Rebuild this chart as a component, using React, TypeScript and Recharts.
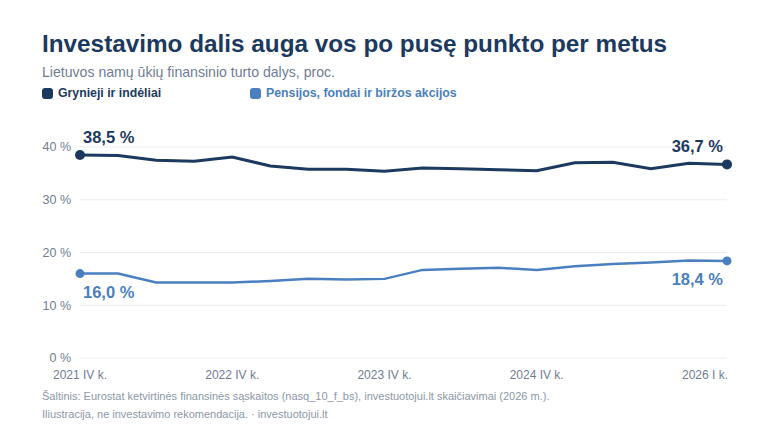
import React from "react";
import { LineChart, Line, XAxis, YAxis, CartesianGrid, LabelList } from "recharts";

const quarters = [
  "2021 IV k.",
  "2022 I k.", "2022 II k.", "2022 III k.", "2022 IV k.",
  "2023 I k.", "2023 II k.", "2023 III k.", "2023 IV k.",
  "2024 I k.", "2024 II k.", "2024 III k.", "2024 IV k.",
  "2025 I k.", "2025 II k.", "2025 III k.", "2025 IV k.",
  "2026 I k.",
];
const cashDeposits = [38.5, 38.4, 37.5, 37.3, 38.1, 36.4, 35.8, 35.8, 35.4, 36.0, 35.9, 35.7, 35.5, 37.0, 37.1, 35.9, 36.9, 36.7];
const pensionsFunds = [16.0, 16.0, 14.3, 14.3, 14.3, 14.6, 15.0, 14.9, 15.0, 16.7, 16.9, 17.1, 16.7, 17.4, 17.8, 18.1, 18.5, 18.4];
const xTicks = ["2021 IV k.", "2022 IV k.", "2023 IV k.", "2024 IV k.", "2026 I k."];
const yTicks = [0, 10, 20, 30, 40];

const title = "Investavimo dalis auga vos po pusę punkto per metus";
const subtitle = "Lietuvos namų ūkių finansinio turto dalys, proc.";
const seriesNames = ["Grynieji ir indėliai", "Pensijos, fondai ir biržos akcijos"];
const source1 = "Šaltinis: Eurostat ketvirtinės finansinės sąskaitos (nasq_10_f_bs), investuotojui.lt skaičiavimai (2026 m.).";
const source2 = "Iliustracija, ne investavimo rekomendacija. · investuotojui.lt";

const DARK = "#1c3a60";
const BLUE = "#4a7fc0";
const GRAY = "#6f7d91";
const FONT = "'Liberation Sans', Arial, Helvetica, sans-serif";

const data = quarters.map((q, i) => ({ q, cash: cashDeposits[i], pens: pensionsFunds[i] }));
const last = quarters.length - 1;

const fmt = (v: number) => v.toFixed(1).replace(".", ",") + " %";

const makeDot = (color: string, r: number) => (props: any) => {
  const { cx, cy, index } = props;
  if (index !== 0 && index !== last) return <g key={index} />;
  return <circle key={index} cx={cx} cy={cy} r={r} fill={color} stroke="none" />;
};

const makeLabel = (color: string, above: boolean) => (props: any) => {
  const { x, y, index, value } = props;
  if (index !== 0 && index !== last) return null;
  const isFirst = index === 0;
  return (
    <text
      x={isFirst ? x + 3 : x - 4}
      y={above ? y - 18 : y + 18}
      textAnchor={isFirst ? "start" : "end"}
      dominantBaseline="central"
      fill={color}
      fontSize={16.5}
      fontWeight={700}
      fontFamily={FONT}
    >
      {fmt(value)}
    </text>
  );
};

const XTick = (props: any) => {
  const { x, y, payload } = props;
  const isLast = payload.value === quarters[last];
  return (
    <text x={isLast ? x + 1 : x} y={y} dy="0.71em" textAnchor={isLast ? "end" : "middle"} fill={GRAY} fontSize={12} fontFamily={FONT}>
      {payload.value}
    </text>
  );
};

export default function App() {
  return (
    <div style={{ position: "absolute", left: 0, top: 0, width: 768, height: 432, background: "#fff", fontFamily: FONT, overflow: "hidden" }}>
      <div style={{ position: "absolute", left: 42, top: 30, fontSize: 24.3, fontWeight: 700, color: DARK, whiteSpace: "nowrap" }}>{title}</div>
      <div style={{ position: "absolute", left: 42, top: 63.5, fontSize: 14.1, color: GRAY, whiteSpace: "nowrap" }}>{subtitle}</div>
      <div style={{ position: "absolute", left: 42, top: 86, display: "flex", alignItems: "center", whiteSpace: "nowrap" }}>
        <span style={{ width: 11, height: 11, borderRadius: 3, background: DARK, display: "inline-block" }} />
        <span style={{ marginLeft: 5, fontSize: 12.3, fontWeight: 700, color: DARK }}>{seriesNames[0]}</span>
      </div>
      <div style={{ position: "absolute", left: 250, top: 86, display: "flex", alignItems: "center", whiteSpace: "nowrap" }}>
        <span style={{ width: 11, height: 11, borderRadius: 3, background: BLUE, display: "inline-block" }} />
        <span style={{ marginLeft: 5, fontSize: 12.3, fontWeight: 700, color: BLUE }}>{seriesNames[1]}</span>
      </div>
      <div style={{ position: "absolute", left: 0, top: 0 }}>
        <LineChart width={768} height={432} data={data} margin={{ top: 147, right: 41, bottom: 54, left: 0 }}>
          <CartesianGrid vertical={false} stroke="#e9ecf0" strokeWidth={1} />
          <XAxis
            dataKey="q"
            ticks={xTicks}
            interval={0}
            axisLine={false}
            tickLine={false}
            height={20}
            tick={<XTick />}
            tickMargin={6}
          />
          <YAxis
            domain={[0, 40]}
            ticks={yTicks}
            width={80}
            axisLine={false}
            tickLine={false}
            tickMargin={3}
            tick={{ fill: GRAY, fontSize: 12.5, fontFamily: FONT }}
            tickFormatter={(v: number) => `${v} %`}
          />
          <Line
            type="linear"
            dataKey="cash"
            stroke={DARK}
            strokeWidth={3}
            dot={makeDot(DARK, 5)}
            activeDot={false}
            isAnimationActive={false}
          >
            <LabelList dataKey="cash" content={makeLabel(DARK, true)} />
          </Line>
          <Line
            type="linear"
            dataKey="pens"
            stroke={BLUE}
            strokeWidth={2.5}
            dot={makeDot(BLUE, 4.5)}
            activeDot={false}
            isAnimationActive={false}
          >
            <LabelList dataKey="pens" content={makeLabel(BLUE, false)} />
          </Line>
        </LineChart>
      </div>
      <div style={{ position: "absolute", left: 42, top: 389.5, fontSize: 11, color: "#8c97a8", whiteSpace: "nowrap" }}>{source1}</div>
      <div style={{ position: "absolute", left: 42, top: 407.5, fontSize: 11, color: "#8c97a8", whiteSpace: "nowrap" }}>{source2}</div>
    </div>
  );
}
